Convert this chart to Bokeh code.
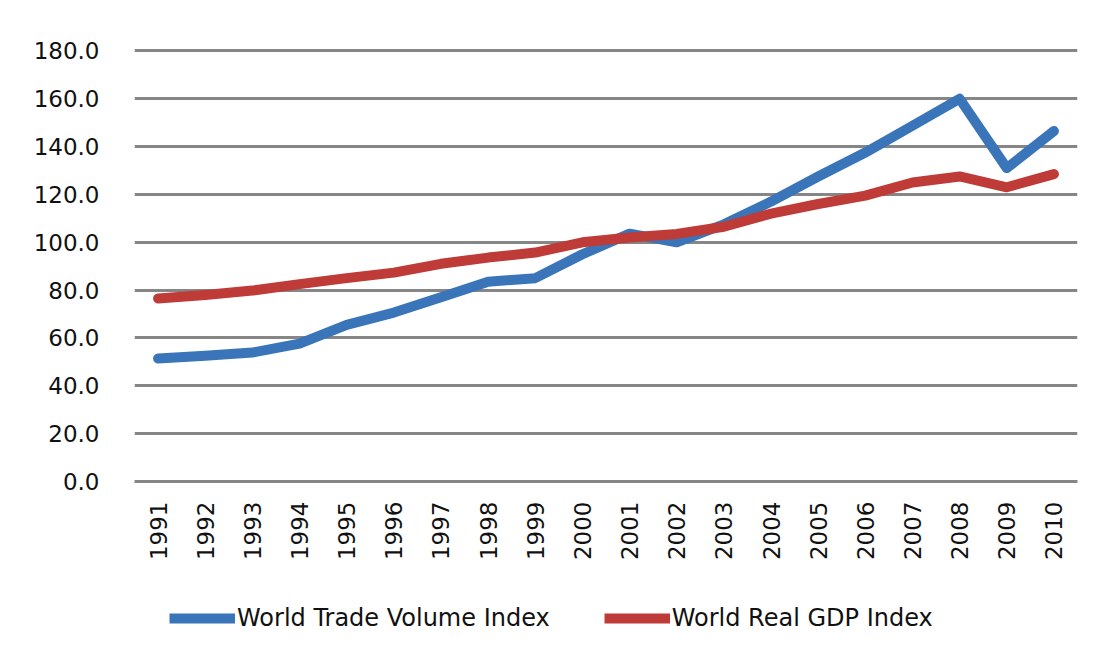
from bokeh.plotting import figure
from bokeh.layouts import column
from bokeh.models import ColumnDataSource, Range1d, SingleIntervalTicker, NumeralTickFormatter, Legend, LegendItem
from bokeh.embed import file_html
from bokeh.resources import INLINE
from math import pi

years = [str(y) for y in range(1991, 2011)]
trade_volume = [51.4, 52.6, 53.9, 57.6, 65.5, 70.6, 77.0, 83.5, 85.0, 95.0,
                103.6, 100.0, 107.5, 117.0, 127.5, 137.5, 148.7, 160.0, 131.0, 146.5]
real_gdp = [76.5, 78.0, 79.8, 82.5, 85.0, 87.3, 91.0, 93.6, 95.7, 100.0,
            102.0, 103.5, 106.5, 112.0, 116.0, 119.5, 125.0, 127.5, 123.0, 128.5]
series_names = ["World Trade Volume Index", "World Real GDP Index"]

FONT = "DejaVu Sans"
GRID = "#868686"
BLUE = "#3A75BA"
RED = "#BE3B37"

src = ColumnDataSource(dict(year=years, trade=trade_volume, gdp=real_gdp))

p = figure(width=1085, height=590, x_range=years, y_range=Range1d(0, 181),
           output_backend="svg", toolbar_location=None,
           min_border_left=134, min_border_right=8, min_border_top=48, min_border_bottom=109)
p.outline_line_color = None
p.background_fill_color = "white"

p.line("year", "trade", source=src, line_color=BLUE, line_width=10, line_join="round", line_cap="round")
p.line("year", "gdp", source=src, line_color=RED, line_width=10, line_join="round", line_cap="round")

p.yaxis.ticker = SingleIntervalTicker(interval=20)
p.yaxis.formatter = NumeralTickFormatter(format="0.0")
p.yaxis.axis_line_color = None
p.yaxis.major_tick_line_color = None
p.yaxis.minor_tick_line_color = None
p.yaxis.major_label_standoff = 29
p.yaxis.major_label_text_font = FONT
p.yaxis.major_label_text_font_size = "23px"
p.yaxis.major_label_text_color = "#111111"

p.xaxis.axis_line_color = GRID
p.xaxis.axis_line_width = 3
p.xaxis.major_tick_line_color = None
p.xaxis.minor_tick_line_color = None
p.xaxis.major_label_orientation = pi / 2
p.xaxis.major_label_standoff = 14
p.xaxis.major_label_text_font = FONT
p.xaxis.major_label_text_font_size = "23px"
p.xaxis.major_label_text_color = "#111111"

p.xgrid.grid_line_color = None
p.ygrid.grid_line_color = GRID
p.ygrid.grid_line_width = 3

# legend strip below the chart (same series, drawn out of view so only the legend shows)
lg = figure(width=1085, height=58, x_range=years, y_range=Range1d(1000, 1001),
            output_backend="svg", toolbar_location=None,
            x_axis_type=None, y_axis_type=None,
            min_border_left=0, min_border_right=0, min_border_top=0, min_border_bottom=0)
lg.outline_line_color = None
lg.xgrid.grid_line_color = None
lg.ygrid.grid_line_color = None
l1 = lg.line("year", "trade", source=src, line_color=BLUE, line_width=10)
l2 = lg.line("year", "gdp", source=src, line_color=RED, line_width=10)

legend = Legend(items=[LegendItem(label=series_names[0], renderers=[l1]),
                       LegendItem(label=series_names[1], renderers=[l2])],
                orientation="horizontal", location=(35, 16))
legend.glyph_width = 66
legend.glyph_height = 20
legend.spacing = 54
legend.label_standoff = 2
legend.label_text_font = FONT
legend.label_text_font_size = "24px"
legend.label_text_color = "#111111"
legend.border_line_color = None
legend.background_fill_alpha = 0
legend.padding = 0
legend.margin = 0
lg.add_layout(legend, "center")

layout = column(p, lg, spacing=0)
open("out.html", "w").write(file_html(layout, INLINE))
